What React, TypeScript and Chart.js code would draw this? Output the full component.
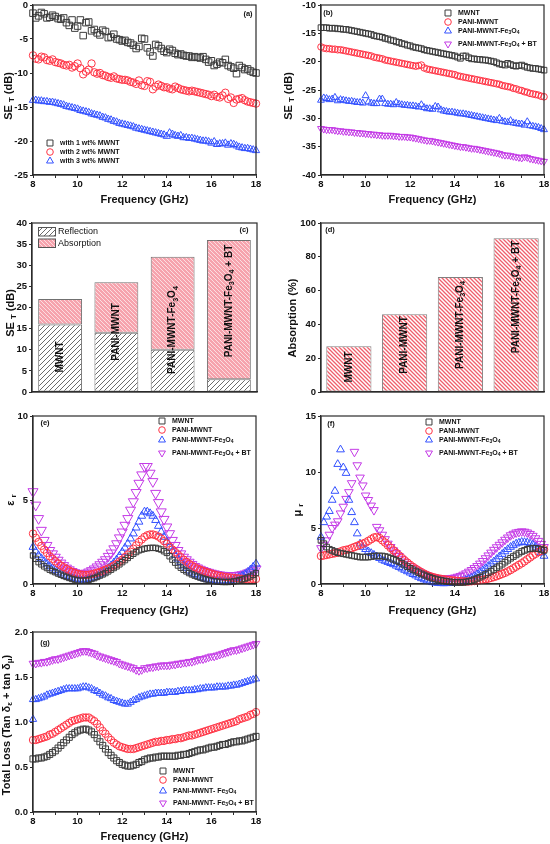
import React, { useEffect, useRef } from 'react';
import { Chart, registerables } from 'chart.js';
Chart.register(...registerables);

const FONT = '"Liberation Sans", Arial, Helvetica, sans-serif';
Chart.defaults.font.family = FONT;
const W = 550;
const H = 844;
const AXIS = '#2b2b2b';
const TXT = '#111';

// ---------------- data ----------------
const FREQ = [8, 8.125, 8.25, 8.375, 8.5, 8.625, 8.75, 8.875, 9, 9.125, 9.25, 9.375, 9.5, 9.625, 9.75, 9.875, 10, 10.125, 10.25, 10.375, 10.5, 10.625, 10.75, 10.875, 11, 11.125, 11.25, 11.375, 11.5, 11.625, 11.75, 11.875, 12, 12.125, 12.25, 12.375, 12.5, 12.625, 12.75, 12.875, 13, 13.125, 13.25, 13.375, 13.5, 13.625, 13.75, 13.875, 14, 14.125, 14.25, 14.375, 14.5, 14.625, 14.75, 14.875, 15, 15.125, 15.25, 15.375, 15.5, 15.625, 15.75, 15.875, 16, 16.125, 16.25, 16.375, 16.5, 16.625, 16.75, 16.875, 17, 17.125, 17.25, 17.375, 17.5, 17.625, 17.75, 17.875, 18];

// (a) SE_T vs frequency for MWNT loading
const A_1WT = [-1.2, -1.9, -1.6, -1.1, -1.3, -1.9, -1.8, -1.5, -1.7, -2.0, -2.1, -1.9, -2.6, -3.0, -2.2, -3.4, -3.1, -2.2, -4.5, -2.6, -2.5, -3.8, -3.6, -4.1, -4.4, -3.7, -3.9, -4.8, -4.7, -4.3, -5.0, -5.1, -5.3, -5.2, -5.5, -5.6, -5.9, -6.4, -6.1, -4.9, -5.0, -6.3, -6.9, -7.5, -5.8, -6.0, -6.4, -6.8, -7.0, -6.5, -6.7, -7.1, -7.3, -7.2, -7.4, -7.5, -7.5, -7.7, -7.6, -7.7, -7.8, -7.6, -8.0, -8.4, -8.2, -8.9, -8.7, -8.4, -8.5, -8.0, -8.9, -9.1, -9.3, -10.1, -8.9, -9.2, -9.5, -9.4, -9.7, -9.9, -10.0];
const A_2WT = [-7.4, -7.9, -8.0, -7.6, -7.7, -8.1, -8.2, -8.0, -8.4, -8.5, -8.6, -8.8, -8.9, -8.8, -9.2, -9.0, -8.6, -9.3, -10.2, -9.8, -9.5, -8.6, -9.9, -10.1, -10.0, -10.3, -10.4, -10.6, -10.7, -10.5, -10.8, -10.9, -11.0, -11.0, -11.1, -11.3, -11.4, -11.6, -11.1, -11.8, -11.9, -11.2, -11.3, -12.4, -12.0, -11.7, -11.9, -12.1, -12.1, -12.3, -12.4, -12.0, -12.2, -12.4, -12.5, -12.6, -12.7, -12.6, -12.7, -12.8, -12.9, -13.0, -13.1, -13.2, -13.4, -13.2, -13.5, -13.6, -13.3, -12.9, -13.8, -13.6, -14.4, -13.9, -13.8, -13.7, -14.0, -14.2, -14.3, -14.4, -14.5];
const A_3WT = [-14.0, -14.0, -14.1, -14.1, -14.2, -14.2, -14.3, -14.3, -14.4, -14.5, -14.6, -14.7, -14.9, -15.0, -15.1, -15.2, -15.3, -15.5, -15.6, -15.7, -15.8, -16.0, -16.1, -16.2, -16.3, -16.5, -16.6, -16.8, -16.9, -17.1, -17.2, -17.4, -17.5, -17.6, -17.7, -17.8, -17.9, -18.1, -18.2, -18.3, -18.4, -18.5, -18.6, -18.7, -18.8, -18.9, -19.0, -19.1, -19.3, -18.8, -19.0, -19.2, -19.3, -19.2, -19.5, -19.5, -19.6, -19.6, -19.7, -19.8, -19.9, -20.0, -20.0, -20.1, -20.3, -20.1, -20.5, -20.4, -20.4, -20.3, -20.6, -20.4, -20.5, -20.7, -20.9, -21.0, -21.1, -21.1, -21.2, -21.3, -21.4];

// (b) SE_T for composites
const B_MWNT = [-14.0, -14.0, -14.0, -14.1, -14.1, -14.1, -14.2, -14.2, -14.3, -14.3, -14.4, -14.5, -14.6, -14.7, -14.8, -14.9, -15.0, -15.1, -15.2, -15.4, -15.5, -15.6, -15.7, -15.9, -16.0, -16.2, -16.3, -16.5, -16.6, -16.8, -16.9, -17.1, -17.2, -17.4, -17.5, -17.6, -17.7, -17.9, -18.0, -18.1, -18.2, -18.3, -18.4, -18.5, -18.6, -18.7, -18.8, -18.9, -19.0, -19.2, -19.4, -19.0, -19.0, -19.3, -19.5, -19.5, -19.6, -19.6, -19.7, -19.7, -19.8, -19.9, -20.0, -20.2, -20.4, -20.5, -20.6, -20.3, -20.5, -20.7, -20.8, -20.7, -20.6, -20.8, -21.0, -21.1, -21.2, -21.2, -21.3, -21.4, -21.5];
const B_PANI = [-17.4, -17.6, -17.7, -17.7, -17.8, -17.8, -17.9, -17.9, -18.0, -18.1, -18.2, -18.3, -18.4, -18.5, -18.6, -18.7, -18.8, -18.9, -19.0, -19.2, -19.3, -19.4, -19.5, -19.7, -19.8, -19.9, -20.0, -20.1, -20.2, -20.3, -20.4, -20.5, -20.6, -20.7, -20.8, -20.7, -20.6, -21.1, -21.3, -21.4, -21.5, -21.6, -21.7, -21.8, -21.9, -22.0, -22.1, -22.2, -22.3, -22.5, -22.6, -22.7, -22.8, -22.9, -23.0, -23.1, -23.2, -23.3, -23.4, -23.5, -23.6, -23.7, -23.8, -23.9, -24.0, -24.2, -24.3, -24.4, -24.5, -24.7, -24.8, -25.0, -25.1, -25.3, -25.4, -25.6, -25.7, -25.8, -25.9, -26.1, -26.2];
const B_FE = [-26.8, -26.4, -26.5, -26.7, -26.6, -26.3, -26.9, -26.7, -26.8, -26.9, -27.0, -27.0, -27.1, -27.2, -27.2, -27.3, -26.0, -27.1, -27.3, -27.4, -27.4, -26.6, -26.6, -27.4, -27.5, -27.5, -27.6, -27.2, -27.5, -27.6, -27.7, -27.7, -27.8, -27.8, -27.9, -28.0, -27.6, -28.1, -28.3, -28.3, -28.4, -27.9, -28.0, -28.5, -28.7, -28.8, -28.9, -28.9, -29.0, -29.1, -29.2, -29.2, -29.3, -29.4, -29.5, -29.6, -29.7, -29.8, -29.9, -30.0, -30.1, -30.2, -30.3, -30.4, -30.0, -30.5, -30.6, -30.7, -30.4, -30.8, -30.9, -31.0, -31.0, -31.2, -30.6, -31.3, -31.4, -31.5, -31.6, -31.8, -32.0];
const B_BT = [-31.8, -31.9, -32.0, -32.0, -32.0, -32.1, -32.2, -32.2, -32.3, -32.3, -32.4, -32.4, -32.5, -32.5, -32.6, -32.6, -32.7, -32.7, -32.8, -32.8, -32.9, -32.9, -33.0, -33.0, -33.0, -33.0, -33.1, -33.1, -33.2, -33.2, -33.2, -33.3, -33.3, -33.4, -33.5, -33.6, -33.7, -33.8, -33.9, -33.9, -34.0, -34.1, -34.2, -34.3, -34.4, -34.5, -34.6, -34.7, -34.8, -34.9, -35.0, -35.0, -35.1, -35.2, -35.3, -35.3, -35.4, -35.5, -35.6, -35.7, -35.8, -35.9, -36.0, -36.1, -36.2, -36.4, -36.5, -36.5, -36.6, -36.7, -36.8, -36.9, -37.0, -36.8, -36.9, -37.1, -37.2, -37.3, -37.4, -37.5, -37.6];

// (c), (d) bars
const BAR_CATEGORIES = ['MWNT', 'PANI-MWNT', 'PANI-MWNT-Fe_3O_4', 'PANI-MWNT-Fe_3O_4 + BT'];
const SE_TOTAL = [22, 26, 32, 36];
const SE_REFLECTION = [16, 14, 10, 3];
const ABSORPTION_PCT = [27, 46, 68, 91];

// (e) permittivity
const E_MWNT = [1.7, 1.5, 1.3, 1.17, 1.05, 0.95, 0.85, 0.77, 0.7, 0.62, 0.55, 0.48, 0.42, 0.36, 0.3, 0.26, 0.22, 0.2, 0.2, 0.22, 0.25, 0.3, 0.35, 0.42, 0.5, 0.57, 0.65, 0.75, 0.85, 0.95, 1.05, 1.17, 1.3, 1.42, 1.55, 1.68, 1.8, 1.9, 2.0, 2.05, 2.1, 2.13, 2.15, 2.15, 2.15, 2.1, 2.05, 1.95, 1.85, 1.65, 1.45, 1.27, 1.1, 0.97, 0.85, 0.75, 0.65, 0.57, 0.5, 0.44, 0.38, 0.33, 0.28, 0.24, 0.2, 0.17, 0.15, 0.13, 0.12, 0.12, 0.12, 0.13, 0.15, 0.18, 0.22, 0.27, 0.32, 0.38, 0.45, 0.55, 0.65];
const E_PANI = [3.0, 2.75, 2.5, 2.27, 2.05, 1.85, 1.65, 1.5, 1.35, 1.22, 1.1, 1.0, 0.9, 0.8, 0.72, 0.66, 0.6, 0.57, 0.55, 0.54, 0.55, 0.58, 0.62, 0.67, 0.72, 0.78, 0.85, 0.92, 1.0, 1.1, 1.2, 1.32, 1.45, 1.6, 1.75, 1.92, 2.1, 2.3, 2.5, 2.65, 2.8, 2.9, 2.95, 2.95, 2.9, 2.82, 2.7, 2.55, 2.4, 2.22, 2.05, 1.9, 1.75, 1.6, 1.45, 1.32, 1.2, 1.1, 1.0, 0.92, 0.85, 0.78, 0.72, 0.67, 0.62, 0.57, 0.52, 0.48, 0.45, 0.42, 0.4, 0.38, 0.36, 0.34, 0.33, 0.31, 0.3, 0.3, 0.3, 0.3, 0.3];
const E_FE = [2.2, 1.93, 1.7, 1.52, 1.35, 1.2, 1.05, 0.93, 0.82, 0.72, 0.62, 0.54, 0.47, 0.41, 0.35, 0.3, 0.27, 0.25, 0.25, 0.27, 0.3, 0.35, 0.42, 0.5, 0.6, 0.7, 0.82, 0.95, 1.1, 1.27, 1.45, 1.67, 1.9, 2.15, 2.4, 2.7, 3.0, 3.35, 3.7, 4.05, 4.3, 4.3, 4.2, 4.05, 3.8, 3.45, 3.1, 2.8, 2.5, 2.22, 1.95, 1.72, 1.5, 1.3, 1.1, 0.95, 0.8, 0.68, 0.58, 0.5, 0.42, 0.36, 0.3, 0.26, 0.22, 0.2, 0.18, 0.17, 0.17, 0.18, 0.2, 0.23, 0.27, 0.33, 0.4, 0.48, 0.58, 0.7, 0.85, 1.02, 1.2];
const E_BT = [5.5, 4.7, 3.9, 3.2, 2.6, 2.3, 2.0, 1.8, 1.6, 1.42, 1.25, 1.1, 0.95, 0.85, 0.75, 0.68, 0.62, 0.6, 0.6, 0.65, 0.72, 0.8, 0.9, 1.02, 1.15, 1.3, 1.45, 1.65, 1.85, 2.1, 2.4, 2.75, 3.1, 3.5, 3.9, 4.4, 4.9, 5.45, 6.0, 6.5, 7.0, 7.0, 6.6, 6.1, 5.4, 4.85, 4.3, 3.85, 3.4, 3.0, 2.6, 2.3, 2.0, 1.8, 1.6, 1.45, 1.3, 1.17, 1.05, 0.96, 0.88, 0.81, 0.75, 0.7, 0.65, 0.61, 0.57, 0.54, 0.52, 0.51, 0.5, 0.5, 0.5, 0.51, 0.53, 0.56, 0.6, 0.66, 0.72, 0.8, 0.9];

// (f) permeability
const F_MWNT = [3.9, 3.6, 3.3, 3.1, 3.0, 2.9, 2.8, 2.75, 2.7, 2.65, 2.6, 2.55, 2.5, 2.45, 2.4, 2.4, 2.4, 2.4, 2.45, 2.5, 2.5, 2.5, 2.5, 2.45, 2.4, 2.3, 2.2, 2.1, 2.0, 1.85, 1.7, 1.55, 1.4, 1.27, 1.15, 1.02, 0.9, 0.8, 0.7, 0.6, 0.5, 0.44, 0.38, 0.33, 0.28, 0.24, 0.2, 0.17, 0.15, 0.14, 0.13, 0.15, 0.18, 0.23, 0.3, 0.4, 0.5, 0.6, 0.72, 0.85, 1.0, 1.15, 1.3, 1.45, 1.6, 1.77, 1.95, 2.12, 2.3, 2.45, 2.6, 2.75, 2.9, 3.0, 3.1, 3.15, 3.2, 3.18, 3.15, 3.08, 3.0];
const F_PANI = [2.5, 2.55, 2.6, 2.65, 2.7, 2.75, 2.8, 2.9, 3.0, 3.05, 3.1, 3.2, 3.3, 3.4, 3.5, 3.6, 3.7, 3.85, 4.0, 4.15, 4.2, 4.1, 3.9, 3.7, 3.45, 3.22, 3.0, 2.77, 2.55, 2.32, 2.1, 1.9, 1.7, 1.52, 1.35, 1.2, 1.05, 0.92, 0.8, 0.7, 0.62, 0.56, 0.5, 0.46, 0.42, 0.38, 0.35, 0.32, 0.3, 0.27, 0.25, 0.23, 0.22, 0.23, 0.25, 0.27, 0.3, 0.34, 0.38, 0.43, 0.48, 0.55, 0.62, 0.7, 0.8, 0.9, 1.0, 1.12, 1.25, 1.4, 1.55, 1.7, 1.85, 2.02, 2.2, 2.37, 2.55, 2.7, 2.85, 2.97, 3.1];
const F_FE = [4.2, 5.5, 6.0, 6.5, 7.5, 8.3, 10.7, 12.0, 10.4, 9.9, 7.5, 6.4, 5.5, 4.5, 3.6, 3.3, 3.1, 2.9, 2.75, 2.6, 2.45, 2.3, 2.15, 2.05, 1.95, 1.85, 1.75, 1.62, 1.5, 1.37, 1.25, 1.12, 1.0, 0.87, 0.75, 0.62, 0.5, 0.4, 0.3, 0.22, 0.15, 0.11, 0.08, 0.06, 0.05, 0.06, 0.07, 0.09, 0.12, 0.16, 0.2, 0.27, 0.35, 0.45, 0.55, 0.7, 0.85, 1.02, 1.2, 1.4, 1.6, 1.8, 2.0, 2.22, 2.45, 2.67, 2.9, 3.1, 3.3, 3.45, 3.6, 3.68, 3.75, 3.73, 3.7, 3.6, 3.5, 3.3, 3.1, 2.8, 2.5];
const F_BT = [3.2, 3.5, 3.9, 4.4, 5.0, 5.3, 5.6, 6.3, 6.9, 7.6, 8.2, 9.0, 11.8, 10.6, 9.5, 8.8, 7.9, 7.5, 7.0, 6.6, 5.1, 4.8, 4.4, 4.0, 3.6, 3.3, 3.0, 2.75, 2.5, 2.25, 2.0, 1.8, 1.6, 1.45, 1.3, 1.15, 1.0, 0.9, 0.8, 0.7, 0.62, 0.57, 0.52, 0.5, 0.48, 0.49, 0.5, 0.54, 0.58, 0.65, 0.72, 0.83, 0.95, 1.1, 1.25, 1.42, 1.6, 1.82, 2.05, 2.3, 2.55, 2.8, 3.05, 3.28, 3.5, 3.72, 3.95, 4.15, 4.35, 4.48, 4.6, 4.65, 4.7, 4.67, 4.6, 4.47, 4.3, 4.08, 3.85, 3.58, 3.3];

// (g) total loss
const G_MWNT = [0.59, 0.59, 0.6, 0.6, 0.61, 0.62, 0.64, 0.66, 0.68, 0.71, 0.74, 0.77, 0.8, 0.83, 0.86, 0.88, 0.9, 0.91, 0.92, 0.92, 0.91, 0.89, 0.86, 0.82, 0.78, 0.74, 0.7, 0.66, 0.63, 0.6, 0.57, 0.55, 0.53, 0.52, 0.51, 0.51, 0.52, 0.53, 0.55, 0.56, 0.58, 0.59, 0.6, 0.6, 0.61, 0.61, 0.62, 0.62, 0.62, 0.62, 0.62, 0.62, 0.63, 0.63, 0.64, 0.64, 0.65, 0.66, 0.67, 0.68, 0.69, 0.69, 0.7, 0.71, 0.72, 0.72, 0.73, 0.74, 0.75, 0.75, 0.76, 0.77, 0.78, 0.78, 0.79, 0.79, 0.8, 0.81, 0.82, 0.83, 0.84];
const G_PANI = [0.8, 0.8, 0.81, 0.82, 0.83, 0.84, 0.86, 0.87, 0.89, 0.91, 0.93, 0.95, 0.97, 0.99, 1.01, 1.02, 1.03, 1.04, 1.05, 1.05, 1.05, 1.03, 1.01, 0.98, 0.94, 0.9, 0.87, 0.83, 0.8, 0.77, 0.75, 0.73, 0.72, 0.71, 0.7, 0.7, 0.7, 0.71, 0.72, 0.73, 0.74, 0.75, 0.76, 0.77, 0.78, 0.78, 0.79, 0.79, 0.8, 0.8, 0.81, 0.81, 0.82, 0.82, 0.83, 0.84, 0.85, 0.85, 0.86, 0.87, 0.88, 0.89, 0.9, 0.91, 0.92, 0.93, 0.94, 0.95, 0.96, 0.97, 0.98, 0.99, 1.0, 1.01, 1.03, 1.04, 1.05, 1.06, 1.08, 1.09, 1.11];
const G_FE = [1.25, 1.25, 1.26, 1.27, 1.28, 1.3, 1.31, 1.32, 1.33, 1.34, 1.35, 1.36, 1.37, 1.37, 1.37, 1.37, 1.37, 1.38, 1.39, 1.39, 1.38, 1.37, 1.35, 1.34, 1.32, 1.3, 1.29, 1.27, 1.26, 1.24, 1.23, 1.22, 1.21, 1.2, 1.2, 1.22, 1.24, 1.25, 1.27, 1.28, 1.29, 1.3, 1.31, 1.31, 1.32, 1.32, 1.32, 1.32, 1.33, 1.33, 1.33, 1.33, 1.34, 1.34, 1.35, 1.35, 1.35, 1.35, 1.36, 1.36, 1.37, 1.37, 1.38, 1.38, 1.38, 1.38, 1.39, 1.39, 1.39, 1.39, 1.4, 1.4, 1.41, 1.41, 1.42, 1.43, 1.44, 1.45, 1.46, 1.47, 1.48];
const G_FE_EXTRA_X = [8];
const G_FE_EXTRA_Y = [1.03];
const G_BT = [1.65, 1.65, 1.66, 1.66, 1.67, 1.67, 1.68, 1.69, 1.7, 1.7, 1.71, 1.72, 1.73, 1.74, 1.75, 1.76, 1.77, 1.78, 1.79, 1.79, 1.78, 1.77, 1.76, 1.74, 1.73, 1.72, 1.71, 1.7, 1.69, 1.68, 1.67, 1.65, 1.64, 1.63, 1.62, 1.61, 1.6, 1.58, 1.57, 1.58, 1.6, 1.6, 1.61, 1.61, 1.62, 1.62, 1.63, 1.63, 1.63, 1.63, 1.64, 1.64, 1.65, 1.65, 1.66, 1.66, 1.67, 1.67, 1.68, 1.69, 1.7, 1.7, 1.71, 1.72, 1.73, 1.73, 1.74, 1.75, 1.76, 1.77, 1.78, 1.79, 1.8, 1.8, 1.81, 1.82, 1.83, 1.84, 1.85, 1.86, 1.87];

// ---------------- styles ----------------
const S_BLACK = { color: '#3c3c3c', style: 'rect', rot: 0 };
const S_RED = { color: '#ff3344', style: 'circle', rot: 0 };
const S_BLUE = { color: '#3452ff', style: 'triangle', rot: 0 };
const S_MAG = { color: '#c43ae6', style: 'triangle', rot: 180 };

// plot areas in page pixels [left, top, right, bottom]
const PA = [33, 5, 256, 175];
const PB = [321, 5, 544, 175];
const PC = [32, 223, 257, 392];
const PD = [321, 223, 544, 392];
const PE = [33, 416, 256, 584];
const PF = [321, 416, 544, 584];
const PG = [33, 632, 256, 812];

// ---------------- helpers ----------------
function parseRich(s: string) {
  const segs: { t: string; sub: boolean }[] = [];
  let buf = '';
  for (let i = 0; i < s.length; i++) {
    if (s[i] === '_' && i + 1 < s.length) {
      if (buf) segs.push({ t: buf, sub: false });
      buf = '';
      segs.push({ t: s[i + 1], sub: true });
      i++;
    } else buf += s[i];
  }
  if (buf) segs.push({ t: buf, sub: false });
  return segs;
}

function drawRich(ctx: any, s: string, x: number, y: number, size: number, o: any = {}) {
  const segs = parseRich(s);
  const weight = o.bold === false ? '' : 'bold ';
  const sub = size * 0.72;
  let w = 0;
  const ws = segs.map((sg) => {
    ctx.font = `${weight}${sg.sub ? sub : size}px ${FONT}`;
    const m = ctx.measureText(sg.t).width;
    w += m;
    return m;
  });
  ctx.save();
  ctx.translate(x, y);
  if (o.rotate) ctx.rotate(-Math.PI / 2);
  let cx = o.align === 'center' ? -w / 2 : o.align === 'right' ? -w : 0;
  ctx.textBaseline = 'middle';
  ctx.textAlign = 'left';
  ctx.fillStyle = o.color || TXT;
  segs.forEach((sg, i) => {
    ctx.font = `${weight}${sg.sub ? sub : size}px ${FONT}`;
    ctx.fillText(sg.t, cx, sg.sub ? size * 0.3 : 0);
    cx += ws[i];
  });
  ctx.restore();
}

function marker(ctx: any, st: any, x: number, y: number, r: number) {
  ctx.save();
  ctx.strokeStyle = st.color;
  ctx.lineWidth = 1;
  ctx.beginPath();
  if (st.style === 'rect') {
    const s = r * Math.SQRT1_2;
    ctx.rect(x - s, y - s, 2 * s, 2 * s);
  } else if (st.style === 'circle') {
    ctx.arc(x, y, r, 0, Math.PI * 2);
  } else {
    let a = (st.rot * Math.PI) / 180;
    ctx.moveTo(x + Math.sin(a) * r, y - Math.cos(a) * r);
    for (let k = 0; k < 2; k++) {
      a += (2 * Math.PI) / 3;
      ctx.lineTo(x + Math.sin(a) * r, y - Math.cos(a) * r);
    }
    ctx.closePath();
  }
  ctx.stroke();
  ctx.restore();
}

function legend(ctx: any, items: any[], mx: number, tx: number, ys: number[], size = 7) {
  items.forEach((it, i) => {
    marker(ctx, it.st, mx, ys[i], it.r);
    drawRich(ctx, it.text, tx, ys[i], size, { bold: true });
  });
}

function drawBox(ctx: any, a: any) {
  ctx.save();
  ctx.strokeStyle = AXIS;
  ctx.lineWidth = 1.2;
  ctx.strokeRect(a.left, a.top, a.right - a.left, a.bottom - a.top);
  ctx.restore();
}

function ds(label: string, xs: number[], ys: number[], st: any, r: number) {
  return {
    label,
    data: xs.map((x, i) => ({ x, y: ys[i] })),
    showLine: false,
    pointStyle: st.style,
    pointRotation: st.rot,
    pointRadius: r,
    pointBorderWidth: 1,
    pointBorderColor: st.color,
    pointBackgroundColor: 'rgba(0,0,0,0)',
    borderColor: st.color,
    backgroundColor: 'rgba(0,0,0,0)',
    clip: false,
  };
}

const tickFont = { size: 9.5, weight: 'bold' as const, family: FONT };

function yScale(plot: number[], o: any) {
  return {
    type: 'linear',
    min: o.min,
    max: o.max,
    stacked: o.stacked,
    afterFit: (s: any) => {
      s.width = plot[0];
      s.paddingTop = 0;
      s.paddingBottom = 0;
    },
    ticks: { stepSize: o.step, autoSkip: false, padding: 2, color: TXT, font: tickFont, callback: o.fmt || ((v: any) => String(v)) },
    grid: { drawOnChartArea: false, drawTicks: true, tickLength: 3, color: AXIS, lineWidth: 1 },
    border: { display: true, color: AXIS, width: 1.2 },
  };
}

function xLinear(plot: number[]) {
  return {
    type: 'linear',
    min: 8,
    max: 18,
    afterFit: (s: any) => {
      s.height = H - plot[3];
      s.paddingLeft = 0;
      s.paddingRight = 0;
    },
    ticks: { stepSize: 1, autoSkip: false, maxRotation: 0, padding: 1, color: TXT, font: tickFont, callback: (v: any) => (Number(v) % 2 === 0 ? String(v) : '') },
    grid: { drawOnChartArea: false, drawTicks: true, tickLength: 3, color: AXIS, lineWidth: 1 },
    border: { display: true, color: AXIS, width: 1.2 },
  };
}

function baseOptions(plot: number[], scales: any) {
  return {
    responsive: false,
    animation: false,
    events: [],
    layout: { padding: { left: 0, top: plot[1], right: W - plot[2], bottom: 0 }, autoPadding: false },
    plugins: { legend: { display: false }, tooltip: { enabled: false } },
    scales,
  };
}

function scatterCfg(plot: number[], datasets: any[], y: any, deco: (ctx: any, chart: any) => void) {
  return {
    type: 'scatter',
    data: { datasets },
    options: baseOptions(plot, { x: xLinear(plot), y: yScale(plot, y) }),
    plugins: [
      {
        id: 'deco',
        afterDraw: (chart: any) => {
          drawBox(chart.ctx, chart.chartArea);
          deco(chart.ctx, chart);
        },
      },
    ],
  };
}

function hatch(bg: string | null, fg: string, s: number, lw: number, dir: number) {
  const c = document.createElement('canvas');
  c.width = s;
  c.height = s;
  const g = c.getContext('2d')!;
  if (bg) {
    g.fillStyle = bg;
    g.fillRect(0, 0, s, s);
  }
  g.strokeStyle = fg;
  g.lineWidth = lw;
  g.beginPath();
  if (dir > 0) {
    g.moveTo(-1, s + 1); g.lineTo(s + 1, -1);
    g.moveTo(-1, 1); g.lineTo(1, -1);
    g.moveTo(s - 1, s + 1); g.lineTo(s + 1, s - 1);
  } else {
    g.moveTo(-1, -1); g.lineTo(s + 1, s + 1);
    g.moveTo(-1, s - 1); g.lineTo(1, s + 1);
    g.moveTo(s - 1, -1); g.lineTo(s + 1, 1);
  }
  g.stroke();
  return g.createPattern(c, 'repeat')!;
}

function xTitle(ctx: any, plot: number[], y: number) {
  drawRich(ctx, 'Frequency (GHz)', (plot[0] + plot[2]) / 2, y, 11, { align: 'center' });
}

function letter(ctx: any, t: string, x: number, y: number) {
  drawRich(ctx, t, x, y, 7.5, { align: 'center' });
}

const LEG4 = (fe: string) => [
  { text: 'MWNT', st: S_BLACK, r: 4.2 },
  { text: 'PANI-MWNT', st: S_RED, r: 3.3 },
  { text: fe, st: S_BLUE, r: 4 },
  { text: fe + ' + BT', st: S_MAG, r: 4 },
];

function buildConfigs() {
  const patRefl = hatch('#ffffff', '#5a5a5a', 5, 0.9, 1);
  const patAbs = hatch('#f6a3ad', '#fcdde1', 4, 1, -1);
  const patD = hatch('#ffffff', '#ef5f6c', 4, 1.3, -1);

  const cfgA = scatterCfg(
    PA,
    [ds('with 1 wt% MWNT', FREQ, A_1WT, S_BLACK, 4.6), ds('with 2 wt% MWNT', FREQ, A_2WT, S_RED, 3.7), ds('with 3 wt% MWNT', FREQ, A_3WT, S_BLUE, 4.2)],
    { min: -25, max: 0, step: 5 },
    (ctx) => {
      letter(ctx, '(a)', 248, 14);
      xTitle(ctx, PA, 200);
      drawRich(ctx, 'SE _T (dB)', 9, 96, 11, { rotate: true, align: 'center' });
      legend(ctx, [
        { text: 'with 1 wt% MWNT', st: S_BLACK, r: 4.2 },
        { text: 'with 2 wt% MWNT', st: S_RED, r: 3.3 },
        { text: 'with 3 wt% MWNT', st: S_BLUE, r: 4 },
      ], 50, 60, [143, 152, 161]);
    }
  );

  const cfgB = scatterCfg(
    PB,
    [ds('MWNT', FREQ, B_MWNT, S_BLACK, 4), ds('PANI-MWNT', FREQ, B_PANI, S_RED, 3.3), ds('PANI-MWNT-Fe3O4', FREQ, B_FE, S_BLUE, 4), ds('PANI-MWNT-Fe3O4 + BT', FREQ, B_BT, S_MAG, 4)],
    { min: -40, max: -10, step: 5 },
    (ctx) => {
      letter(ctx, '(b)', 328, 13);
      xTitle(ctx, PB, 200);
      drawRich(ctx, 'SE _T (dB)', 289, 96, 11, { rotate: true, align: 'center' });
      legend(ctx, LEG4('PANI-MWNT-Fe_3O_4'), 448, 458, [13, 22, 31, 44]);
    }
  );

  const barX = (plot: number[]) => ({
    type: 'category',
    stacked: true,
    afterFit: (s: any) => {
      s.height = H - plot[3];
      s.paddingLeft = 0;
      s.paddingRight = 0;
    },
    ticks: { display: false },
    grid: { display: false, drawTicks: false },
    border: { display: true, color: AXIS, width: 1.2 },
  });

  const barLabels = (ctx: any, chart: any, ys: number[]) => {
    const meta = chart.getDatasetMeta(0);
    BAR_CATEGORIES.forEach((lab, i) => {
      drawRich(ctx, lab, meta.data[i].x, ys[i], 10, { rotate: true, align: 'center' });
    });
  };

  const cfgC = {
    type: 'bar',
    data: {
      labels: BAR_CATEGORIES,
      datasets: [
        { label: 'Reflection', data: SE_REFLECTION, backgroundColor: patRefl, borderColor: '#707070', borderWidth: 1, borderSkipped: false, barPercentage: 0.78, categoryPercentage: 1 },
        { label: 'Absorption', data: SE_TOTAL.map((t, i) => t - SE_REFLECTION[i]), backgroundColor: patAbs, borderColor: '#707070', borderWidth: 1, borderSkipped: false, barPercentage: 0.78, categoryPercentage: 1 },
      ],
    },
    options: baseOptions(PC, { x: barX(PC), y: yScale(PC, { min: 0, max: 40, step: 5, stacked: true }) }),
    plugins: [
      {
        id: 'deco',
        afterDraw: (chart: any) => {
          const ctx = chart.ctx;
          drawBox(ctx, chart.chartArea);
          letter(ctx, '(c)', 244, 230);
          drawRich(ctx, 'SE _T (dB)', 11, 313, 11, { rotate: true, align: 'center' });
          ctx.save();
          ctx.fillStyle = patRefl;
          ctx.fillRect(38, 227.5, 17, 8.5);
          ctx.strokeStyle = '#555';
          ctx.lineWidth = 1;
          ctx.strokeRect(38.5, 227.5, 17, 8.5);
          ctx.fillStyle = patAbs;
          ctx.fillRect(38, 239, 17, 8.5);
          ctx.strokeRect(38.5, 239, 17, 8.5);
          ctx.restore();
          drawRich(ctx, 'Reflection', 58, 232, 9, { bold: false });
          drawRich(ctx, 'Absorption', 58, 243.5, 9, { bold: false });
          barLabels(ctx, chart, [357, 332, 330, 301]);
        },
      },
    ],
  };

  const cfgD = {
    type: 'bar',
    data: {
      labels: BAR_CATEGORIES,
      datasets: [
        { label: 'Absorption (%)', data: ABSORPTION_PCT, backgroundColor: patD, borderColor: '#808080', borderWidth: 1, borderSkipped: false, barPercentage: 0.81, categoryPercentage: 1 },
      ],
    },
    options: baseOptions(PD, { x: barX(PD), y: yScale(PD, { min: 0, max: 100, step: 20 }) }),
    plugins: [
      {
        id: 'deco',
        afterDraw: (chart: any) => {
          const ctx = chart.ctx;
          drawBox(ctx, chart.chartArea);
          letter(ctx, '(d)', 330, 230);
          drawRich(ctx, 'Absorption (%)', 293, 318, 11, { rotate: true, align: 'center' });
          barLabels(ctx, chart, [367, 345, 325, 297]);
        },
      },
    ],
  };

  const cfgE = scatterCfg(
    PE,
    [ds('MWNT', FREQ, E_MWNT, S_BLACK, 3.8), ds('PANI-MWNT', FREQ, E_PANI, S_RED, 3.7), ds('PANI-MWNT-Fe3O4', FREQ, E_FE, S_BLUE, 4.6), ds('PANI-MWNT-Fe3O4 + BT', FREQ, E_BT, S_MAG, 5.8)],
    { min: 0, max: 10, step: 5 },
    (ctx) => {
      letter(ctx, '(e)', 45, 423);
      xTitle(ctx, PE, 611);
      drawRich(ctx, 'ε _r', 11, 500, 11, { rotate: true, align: 'center' });
      legend(ctx, LEG4('PANI-MWNT-Fe_3O_4'), 162, 172, [421, 430, 440, 453]);
    }
  );

  const cfgF = scatterCfg(
    PF,
    [ds('MWNT', FREQ, F_MWNT, S_BLACK, 4), ds('PANI-MWNT', FREQ, F_PANI, S_RED, 3.8), ds('PANI-MWNT-Fe3O4', FREQ, F_FE, S_BLUE, 4.5), ds('PANI-MWNT-Fe3O4 + BT', FREQ, F_BT, S_MAG, 5)],
    { min: 0, max: 15, step: 5 },
    (ctx) => {
      letter(ctx, '(f)', 331, 424);
      xTitle(ctx, PF, 611);
      drawRich(ctx, 'μ _r', 298, 510, 11, { rotate: true, align: 'center' });
      legend(ctx, LEG4('PANI-MWNT-Fe_3O_4'), 429, 439, [422, 431, 440, 453]);
    }
  );

  const feG: any = ds('PANI-MWNT- Fe3O4', FREQ, G_FE, S_BLUE, 4.2);
  feG.data = feG.data.concat(G_FE_EXTRA_X.map((x, i) => ({ x, y: G_FE_EXTRA_Y[i] })));
  const cfgG = scatterCfg(
    PG,
    [ds('MWNT', FREQ, G_MWNT, S_BLACK, 4.3), ds('PANI-MWNT', FREQ, G_PANI, S_RED, 3.7), feG, ds('PANI-MWNT- Fe3O4 + BT', FREQ, G_BT, S_MAG, 4.5)],
    { min: 0, max: 2, step: 0.5, fmt: (v: any) => Number(v).toFixed(1) },
    (ctx) => {
      letter(ctx, '(g)', 45, 643);
      xTitle(ctx, PG, 837);
      drawRich(ctx, 'Total Loss (Tan δ_ε + tan δ_μ)', 7, 725, 11, { rotate: true, align: 'center' });
      legend(ctx, LEG4('PANI-MWNT- Fe_3O_4'), 163, 173, [771, 780, 791, 803]);
    }
  );

  return [cfgA, cfgB, cfgC, cfgD, cfgE, cfgF, cfgG];
}

export default function App() {
  const refs = useRef<(HTMLCanvasElement | null)[]>([]);
  useEffect(() => {
    const cfgs = buildConfigs();
    const charts = cfgs.map((cfg, i) => new Chart(refs.current[i] as HTMLCanvasElement, cfg as any));
    return () => charts.forEach((c) => c.destroy());
  }, []);
  return (
    <div style={{ position: 'absolute', left: 0, top: 0, width: W, height: H, background: '#fff', overflow: 'hidden' }}>
      {[0, 1, 2, 3, 4, 5, 6].map((i) => (
        <canvas
          key={i}
          ref={(el) => {
            refs.current[i] = el;
          }}
          width={W}
          height={H}
          style={{ position: 'absolute', left: 0, top: 0, width: W, height: H, display: 'block' }}
        />
      ))}
    </div>
  );
}
